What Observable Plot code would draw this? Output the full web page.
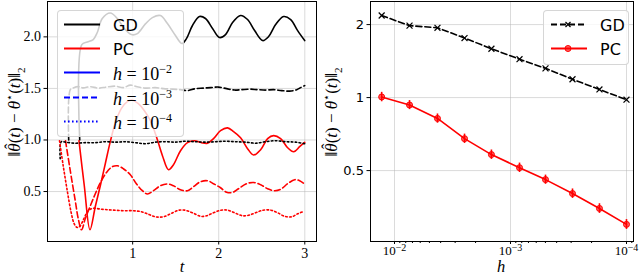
<!DOCTYPE html>
<html><head><meta charset="utf-8">
<script src="https://cdn.jsdelivr.net/npm/d3@7"></script>
<script src="https://cdn.jsdelivr.net/npm/@observablehq/plot@0.6"></script>
<style>
body{margin:0;background:#fff;}
#wrap{position:relative;width:640px;height:275px;overflow:hidden;background:#fff;}
.panel{position:absolute;top:0;}
.ylab{position:absolute;font-family:"Liberation Serif",serif;font-size:17px;white-space:nowrap;transform:translate(-50%,-50%) rotate(-90deg);}
.xlab{position:absolute;font-family:"Liberation Serif",serif;font-style:italic;font-size:16.5px;line-height:14px;transform:translate(-50%,-50%);}
.legend{position:absolute;background:rgba(255,255,255,0.8);border:1px solid rgba(204,204,204,0.8);border-radius:4px;box-sizing:border-box;z-index:5;}
.row{position:absolute;left:0;height:22px;}
.row svg{position:absolute;left:0;top:0;}
.row .lt{position:absolute;top:50%;transform:translateY(-50%);white-space:nowrap;}
.sans{font-family:"DejaVu Sans",sans-serif;font-size:16px;}
.math{font-family:"Liberation Serif",serif;font-size:18px;}
.hat{position:relative;display:inline-block;}
.hat b{position:absolute;left:0.14em;top:-0.2em;font-weight:normal;font-style:normal;font-size:1em;}
</style></head>
<body><div id="wrap"></div>
<script>
// ---------------- Left panel: error vs time ----------------
const gdH2_t = [0.385,0.409,0.473,0.542,0.589,0.647,0.740,0.822,0.903,0.985,1.055,1.148,1.229,1.322,1.404,1.497,1.573,1.625,1.695,1.776,1.846,1.928,2.009,2.079,2.161,2.254,2.335,2.417,2.510,2.580,2.661,2.754,2.836,2.917,2.999];
const gdH2_v = [1.000,1.925,1.950,1.974,2.042,2.178,2.231,2.178,2.081,2.022,2.032,2.126,2.187,2.207,2.129,2.013,1.935,1.983,2.110,2.197,2.178,2.081,1.993,2.022,2.139,2.207,2.168,2.061,1.964,2.003,2.119,2.197,2.168,2.061,1.964];

const gdH3_t = [0.257,0.275,0.310,0.368,0.426,0.508,0.601,0.694,0.799,0.892,0.973,1.066,1.159,1.264,1.357,1.462,1.555,1.637,1.730,1.823,1.905,1.998,2.091,2.184,2.266,2.359,2.452,2.545,2.638,2.731,2.824,2.906,2.952,2.999];
const gdH3_v = [1.000,1.488,1.505,1.517,1.505,1.517,1.503,1.513,1.522,1.508,1.532,1.513,1.503,1.508,1.498,1.493,1.488,1.479,1.498,1.503,1.508,1.513,1.498,1.484,1.488,1.493,1.488,1.484,1.488,1.479,1.474,1.488,1.508,1.527];

const gdH4_t = [0.158,0.170,0.217,0.333,0.449,0.566,0.682,0.799,0.915,1.031,1.148,1.264,1.380,1.497,1.613,1.730,1.846,1.963,2.079,2.195,2.312,2.428,2.545,2.661,2.777,2.894,2.999];
const gdH4_v = [0.818,0.983,0.979,0.969,0.974,0.974,0.983,0.979,0.983,0.974,0.964,0.979,0.983,0.979,0.988,0.983,0.979,0.983,0.988,0.983,0.979,0.969,0.983,0.993,0.983,0.979,0.964];

const pcH2_t = [0.376,0.438,0.504,0.566,0.624,0.682,0.740,0.799,0.868,0.938,0.996,1.066,1.136,1.206,1.276,1.346,1.416,1.474,1.556,1.637,1.718,1.800,1.870,1.939,2.021,2.102,2.172,2.254,2.335,2.405,2.487,2.568,2.638,2.719,2.801,2.871,2.940,2.999];
const pcH2_v = [0.993,0.556,0.129,0.355,0.556,0.770,0.984,1.168,1.304,1.372,1.386,1.352,1.284,1.187,1.032,0.848,0.712,0.760,0.896,0.974,0.993,0.974,0.969,1.013,1.090,1.117,1.081,1.022,0.916,0.854,0.906,1.013,1.042,1.013,0.925,0.886,0.935,0.977];

const pcH3_t = [0.220,0.275,0.333,0.368,0.406,0.449,0.508,0.566,0.624,0.694,0.764,0.822,0.892,0.973,1.043,1.113,1.171,1.241,1.322,1.404,1.474,1.555,1.637,1.707,1.788,1.870,1.939,2.021,2.091,2.161,2.230,2.324,2.405,2.487,2.568,2.650,2.720,2.801,2.883,2.940,2.999];
const pcH3_v = [0.993,0.702,0.411,0.236,0.129,0.236,0.362,0.479,0.585,0.683,0.741,0.750,0.721,0.663,0.576,0.508,0.476,0.508,0.556,0.573,0.556,0.517,0.508,0.547,0.595,0.605,0.576,0.537,0.493,0.491,0.527,0.576,0.588,0.566,0.527,0.508,0.522,0.576,0.615,0.605,0.573];

const pcH4_t = [0.150,0.193,0.240,0.286,0.321,0.356,0.391,0.438,0.484,0.542,0.624,0.717,0.810,0.903,1.008,1.101,1.183,1.264,1.357,1.439,1.532,1.601,1.695,1.788,1.858,1.939,2.021,2.102,2.184,2.277,2.347,2.428,2.510,2.603,2.684,2.766,2.847,2.917,2.987];
const pcH4_v = [0.993,0.750,0.508,0.294,0.187,0.151,0.168,0.246,0.314,0.338,0.330,0.323,0.318,0.314,0.314,0.304,0.280,0.255,0.255,0.284,0.318,0.320,0.294,0.260,0.265,0.294,0.318,0.320,0.294,0.265,0.270,0.294,0.318,0.320,0.294,0.260,0.255,0.284,0.307];

const leftXTicks = [1, 2, 3];
const leftYTicks = [0.5, 1.0, 1.5, 2.0];

// ---------------- Right panel: error vs step size h ----------------
const hValues = [1.29e-2, 7.42e-3, 4.26e-3, 2.49e-3, 1.46e-3, 8.36e-4, 4.99e-4, 2.92e-4, 1.71e-4, 1.0e-4];
const gdErrorH = [2.18, 1.98, 1.94, 1.76, 1.59, 1.44, 1.32, 1.19, 1.08, 0.98];
const pcErrorH = [1.006, 0.932, 0.82, 0.677, 0.582, 0.514, 0.459, 0.402, 0.349, 0.300];
const pcSpread = [0.045, 0.040, 0.036, 0.030, 0.026, 0.023, 0.020, 0.018, 0.016, 0.014];
const rightXTicks = [1e-2, 1e-3, 1e-4];
const rightXTickLabels = ["−2", "−3", "−4"];
const rightXMinor = [9e-3,8e-3,7e-3,6e-3,5e-3,4e-3,3e-3,2e-3,9e-4,8e-4,7e-4,6e-4,5e-4,4e-4,3e-4,2e-4,9e-5];
const rightYTicks = [0.5, 1, 2];
const rightYTickLabels = ["0.5", "1", "2"];

// -------- build tables --------
const zip = (ts, vs) => ts.map((t, i) => ({t, v: vs[i]}));
const leftSeries = [
  {data: zip(gdH2_t, gdH2_v), color: "black", dash: null},
  {data: zip(pcH2_t, pcH2_v), color: "red", dash: null},
  {data: zip(gdH3_t, gdH3_v), color: "black", dash: "6,3"},
  {data: zip(pcH3_t, pcH3_v), color: "red", dash: "6,3"},
  {data: zip(gdH4_t, gdH4_v), color: "black", dash: "1.6,2.4"},
  {data: zip(pcH4_t, pcH4_v), color: "red", dash: "1.6,2.4"}
];
const gdRows = hValues.map((h, i) => ({h, v: gdErrorH[i]}));
const pcRows = hValues.map((h, i) => ({h, v: pcErrorH[i], lo: pcErrorH[i] - pcSpread[i], hi: pcErrorH[i] + pcSpread[i]}));
const xExp = new Map(rightXTicks.map((v, i) => [v, rightXTickLabels[i]]));
const yLab = new Map(rightYTicks.map((v, i) => [v, rightYTickLabels[i]]));

const wrap = document.getElementById("wrap");
const serif = "'Liberation Serif', serif";

const left = Plot.plot({
  width: 320, height: 275,
  marginLeft: 47, marginRight: 4, marginTop: 1, marginBottom: 34,
  style: {background: "transparent", fontFamily: serif, fontSize: "14px", color: "black"},
  x: {domain: [0.0105, 3.136]},
  y: {domain: [0.0155, 2.343]},
  marks: [
    Plot.gridX(leftXTicks, {stroke: "#b0b0b0", strokeOpacity: 0.6, strokeWidth: 0.8}),
    Plot.gridY(leftYTicks, {stroke: "#b0b0b0", strokeOpacity: 0.6, strokeWidth: 0.8}),
    ...leftSeries.map(s => Plot.line(s.data, {x: "t", y: "v", stroke: s.color, strokeWidth: 1.6, strokeDasharray: s.dash, curve: "catmull-rom"})),
    Plot.frame({stroke: "black", strokeWidth: 1}),
    Plot.axisX(leftXTicks, {tickSize: 3.5, tickPadding: 3, tickFormat: d => String(d), label: null, fontSize: 14}),
    Plot.axisY(leftYTicks, {tickSize: 3.5, tickPadding: 3, tickFormat: d => d.toFixed(1), label: null, fontSize: 14})
  ]
});
left.classList.add("panel");
left.style.left = "0px";
wrap.appendChild(left);

const right = Plot.plot({
  width: 320, height: 275,
  marginLeft: 50, marginRight: 7, marginTop: 1, marginBottom: 34,
  style: {background: "transparent", fontFamily: serif, fontSize: "14px", color: "black"},
  x: {type: "log", domain: [0.0161, 8.7e-5]},
  y: {type: "log", domain: [0.255, 2.49]},
  marks: [
    Plot.gridX(rightXTicks, {stroke: "#b0b0b0", strokeOpacity: 0.6, strokeWidth: 0.8}),
    Plot.gridY(rightYTicks, {stroke: "#b0b0b0", strokeOpacity: 0.6, strokeWidth: 0.8}),
    Plot.line(gdRows, {x: "h", y: "v", stroke: "black", strokeWidth: 1.6, strokeDasharray: "6,3"}),
    Plot.dot(gdRows, {x: "h", y: "v", symbol: "times", r: 2.8, stroke: "black", strokeWidth: 1.2}),
    Plot.ruleX(pcRows, {x: "h", y1: "lo", y2: "hi", stroke: "red", strokeWidth: 1.6}),
    Plot.line(pcRows, {x: "h", y: "v", stroke: "red", strokeWidth: 1.6}),
    Plot.dot(pcRows, {x: "h", y: "v", r: 3, fill: "red", fillOpacity: 0.6, stroke: "red", strokeWidth: 1}),
    Plot.frame({stroke: "black", strokeWidth: 1}),
    Plot.axisX(rightXMinor, {tickSize: 2, tickFormat: () => "", label: null}),
    Plot.axisX(rightXTicks, {tickSize: 3, tickPadding: 1.5, tickFormat: d => "10^" + xExp.get(d), label: null, fontSize: 13}),
    Plot.axisY(rightYTicks, {tickSize: 3.5, tickPadding: 3, tickFormat: d => yLab.get(d), label: null, fontSize: 13, fontFamily: "'DejaVu Sans', sans-serif"})
  ]
});
right.classList.add("panel");
right.style.left = "320px";
wrap.appendChild(right);

// superscript exponents on the log tick labels
d3.select(right).selectAll("text").each(function () {
  const s = this.textContent;
  if (s.includes("^")) {
    const [base, exp] = s.split("^");
    const t = d3.select(this);
    t.text(null);
    t.append("tspan").text(base);
    t.append("tspan").attr("dy", "-0.45em").attr("font-size", "10px").text(exp);
  }
});

// axis titles
const ylabHTML = '‖<span class="hat"><i>θ</i><b>ˆ</b></span>(<i>t</i>) − <i>θ</i><sup style="font-size:11px">⋆</sup>(<i>t</i>)‖<sub style="font-size:11px">2</sub>';
function addDiv(cls, html, x, y) {
  const d = document.createElement("div");
  d.className = cls; d.innerHTML = html;
  d.style.left = x + "px"; d.style.top = y + "px";
  wrap.appendChild(d);
}
addDiv("ylab", ylabHTML, 15, 112);
addDiv("ylab", ylabHTML, 332, 112);
addDiv("xlab", "t", 182, 266.5);
addDiv("xlab", "h", 501, 266.5);

// legends
function sample(color, dash, marker) {
  let m = "";
  if (marker === "x") m = `<path d="M15.5,8 L20.5,13 M20.5,8 L15.5,13" stroke="${color}" stroke-width="1.2"/>`;
  if (marker === "o") m = `<circle cx="18" cy="10.5" r="3" fill="${color}" fill-opacity="0.6" stroke="${color}"/>`;
  return `<svg width="40" height="22"><line x1="1" x2="37" y1="10.5" y2="10.5" stroke="${color}" stroke-width="1.8" ${dash ? `stroke-dasharray="${dash}"` : ""}/>${m}</svg>`;
}
function legend(x, y, w, h, rows, textLeft) {
  const box = document.createElement("div");
  box.className = "legend";
  Object.assign(box.style, {left: x + "px", top: y + "px", width: w + "px", height: h + "px"});
  rows.forEach(r => {
    const row = document.createElement("div");
    row.className = "row";
    row.style.top = (r.cy - 11) + "px";
    row.style.width = w + "px";
    row.innerHTML = `<div style="position:absolute;left:${r.sx}px;top:0">${sample(r.color, r.dash, r.marker)}</div><span class="lt ${r.cls}" style="left:${textLeft}px">${r.label}</span>`;
    box.appendChild(row);
  });
  wrap.appendChild(box);
}
const hLab = e => `<i>h</i> = 10<sup style="font-size:12px">−${e}</sup>`;
legend(57, 10, 127, 127, [
  {cy: 13.5, sx: 5, color: "black", dash: null, label: "GD", cls: "sans"},
  {cy: 37.5, sx: 5, color: "red", dash: null, label: "PC", cls: "sans"},
  {cy: 62, sx: 5, color: "blue", dash: null, label: hLab(2), cls: "math"},
  {cy: 86.5, sx: 5, color: "blue", dash: "6,3", label: hLab(3), cls: "math"},
  {cy: 111, sx: 5, color: "blue", dash: "1.6,2.4", label: hLab(4), cls: "math"}
], 55);
legend(543, 10, 86, 55, [
  {cy: 13.5, sx: 6, color: "black", dash: "6,3", marker: "x", label: "GD", cls: "sans"},
  {cy: 37.5, sx: 6, color: "red", dash: null, marker: "o", label: "PC", cls: "sans"}
], 56);
</script></body></html>
